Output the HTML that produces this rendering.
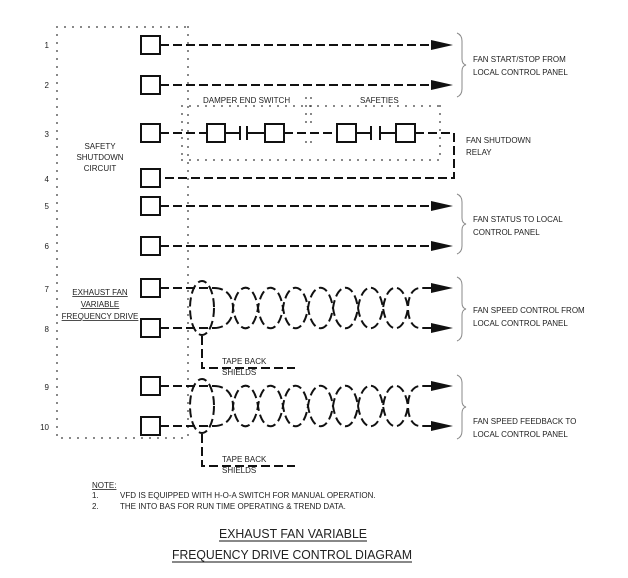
<!DOCTYPE html>
<html><head><style>
html,body{margin:0;padding:0;background:#fff;}
svg{display:block;}
text{font-family:"Liberation Sans",sans-serif;fill:#222;}
.s{font-size:8px;}
.d{fill:none;stroke:#111;stroke-width:2;stroke-dasharray:9 4;}
.dot{fill:none;stroke:#333;stroke-width:1.8;stroke-dasharray:0 8;stroke-linecap:round;}
.b{fill:none;stroke:#111;stroke-width:2;}
.br{fill:none;stroke:#888;stroke-width:1;}
</style></head><body>
<svg width="628" height="578" viewBox="0 0 628 578" xmlns="http://www.w3.org/2000/svg">
<defs>
<path id="ar" d="M0 0 L-22 -5 L-22 5 Z" fill="#111"/>
</defs>
<path class="dot" d="M57 27 H188 M57 27 V438 H188 M188 27 V438"/>
<g class="s" text-anchor="end">
<text x="49" y="48">1</text><text x="49" y="88">2</text><text x="49" y="137">3</text>
<text x="49" y="182">4</text><text x="49" y="209">5</text><text x="49" y="249">6</text>
<text x="49" y="292">7</text><text x="49" y="332">8</text><text x="49" y="390">9</text>
<text x="49" y="430">10</text>
</g>
<g class="s" text-anchor="middle">
<text x="100" y="149">SAFETY</text><text x="100" y="160">SHUTDOWN</text><text x="100" y="171">CIRCUIT</text>
<text x="100" y="295" text-decoration="underline">EXHAUST FAN</text>
<text x="100" y="307" text-decoration="underline">VARIABLE</text>
<text x="100" y="319" text-decoration="underline">FREQUENCY DRIVE</text>
</g>
<g class="b">
<rect x="141" y="36" width="19" height="18"/><rect x="141" y="76" width="19" height="18"/>
<rect x="141" y="124" width="19" height="18"/><rect x="141" y="169" width="19" height="18"/>
<rect x="141" y="197" width="19" height="18"/><rect x="141" y="237" width="19" height="18"/>
<rect x="141" y="279" width="19" height="18"/><rect x="141" y="319" width="19" height="18"/>
<rect x="141" y="377" width="19" height="18"/><rect x="141" y="417" width="19" height="18"/>
</g>
<path class="d" d="M160 45 H432 M160 85 H432 M160 206 H432 M160 246 H432"/>
<use href="#ar" x="453" y="45"/><use href="#ar" x="453" y="85"/>
<use href="#ar" x="453" y="206"/><use href="#ar" x="453" y="246"/>
<path class="dot" d="M182 106 H440 M182 160 H440 M182 106 V160 M440 106 V160 M306 98 V126 M311 98 V126 M306 142 V150 M311 142 V150"/>
<path class="d" d="M160 133 H207 M284 133 H337 M415 133 H454 V178 H160"/>
<g class="b">
<rect x="207" y="124" width="18" height="18"/><rect x="265" y="124" width="19" height="18"/>
<rect x="337" y="124" width="19" height="18"/><rect x="396" y="124" width="19" height="18"/>
<path d="M225 133 H240 M240 126 V140 M247 126 V140 M247 133 H265 M356 133 H371 M371 126 V140 M380 126 V140 M380 133 H396"/>
</g>
<text class="s" x="203" y="103">DAMPER END SWITCH</text>
<text class="s" x="360" y="103">SAFETIES</text>
<text class="s" x="466" y="143">FAN SHUTDOWN</text><text class="s" x="466" y="155">RELAY</text>
<g id="tp">
<path class="d" d="M160 288 H214 M160 328 H214"/>
<ellipse cx="202" cy="308" rx="12" ry="27" class="d"/>
<path class="d" d="M214 288 c12 0 19 8 19 20 c4 27 21 27 25 0 c4 -27 21 -27 25 0 c4 27 21 27 25 0 c4 -27 21 -27 25 0 c4 27 21 27 25 0 c4 -27 21 -27 25 0 c4 27 21 27 25 0 c0 -12 5 -20 12 -20 H432"/>
<path class="d" d="M214 328 c12 0 19 -8 19 -20 c4 -27 21 -27 25 0 c4 27 21 27 25 0 c4 -27 21 -27 25 0 c4 27 21 27 25 0 c4 -27 21 -27 25 0 c4 27 21 27 25 0 c4 -27 21 -27 25 0 c0 12 5 20 12 20 H432"/>
<use href="#ar" x="453" y="288"/><use href="#ar" x="453" y="328"/>
<path class="d" d="M202 336 V368 H295"/>
<text class="s" x="222" y="364">TAPE BACK</text><text class="s" x="222" y="375">SHIELDS</text>
</g>
<use href="#tp" y="98"/>
<g class="br">
<path d="M457 33 q5 2 5 8 v18 q0 5 4 6 q-4 1 -4 6 v18 q0 6 -5 8"/>
<path d="M457 194 q5 2 5 8 v16 q0 5 4 6 q-4 1 -4 6 v16 q0 6 -5 8"/>
<path d="M457 277 q5 2 5 8 v18 q0 5 4 6 q-4 1 -4 6 v18 q0 6 -5 8"/>
<path d="M457 375 q5 2 5 8 v18 q0 5 4 6 q-4 1 -4 6 v18 q0 6 -5 8"/>
</g>
<g class="s">
<text x="473" y="62">FAN START/STOP FROM</text><text x="473" y="75">LOCAL CONTROL PANEL</text>
<text x="473" y="222">FAN STATUS TO LOCAL</text><text x="473" y="235">CONTROL PANEL</text>
<text x="473" y="313">FAN SPEED CONTROL FROM</text><text x="473" y="326">LOCAL CONTROL PANEL</text>
<text x="473" y="424">FAN SPEED FEEDBACK TO</text><text x="473" y="437">LOCAL CONTROL PANEL</text>
</g>
<g class="s">
<text x="92" y="488" text-decoration="underline">NOTE:</text>
<text x="92" y="498">1.</text><text x="120" y="498">VFD IS EQUIPPED WITH H-O-A SWITCH FOR MANUAL OPERATION.</text>
<text x="92" y="509">2.</text><text x="120" y="509">THE INTO BAS FOR RUN TIME OPERATING &amp; TREND DATA.</text>
</g>
<text x="219" y="538" font-size="12.5" textLength="148" lengthAdjust="spacingAndGlyphs">EXHAUST FAN VARIABLE</text>
<path d="M219 541 H367" stroke="#111" stroke-width="1"/>
<text x="172" y="559" font-size="12.5" textLength="240" lengthAdjust="spacingAndGlyphs">FREQUENCY DRIVE CONTROL DIAGRAM</text>
<path d="M172 562 H412" stroke="#111" stroke-width="1"/>
</svg>
</body></html>
